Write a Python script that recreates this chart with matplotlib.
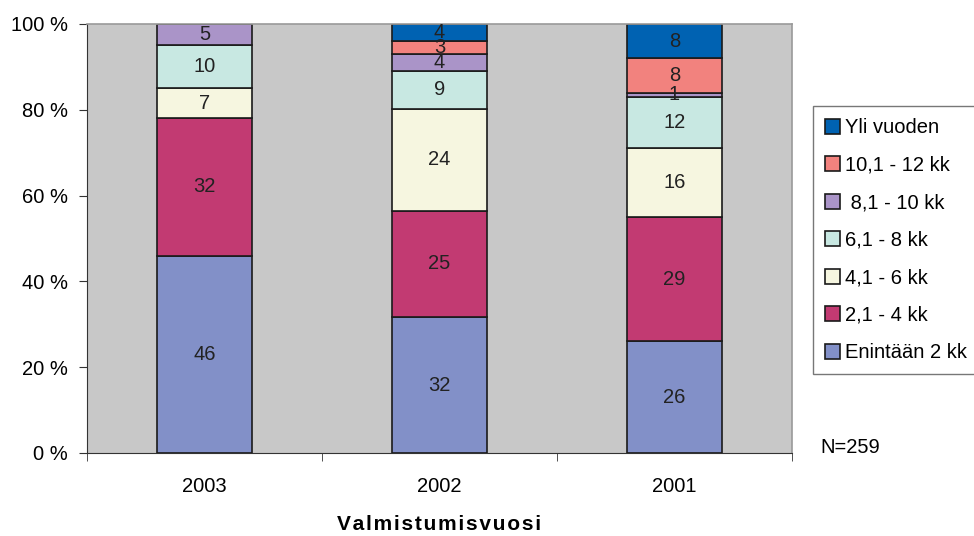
import matplotlib.pyplot as plt
import numpy as np

plt.rcParams['font.family'] = ['Liberation Sans', 'DejaVu Sans']

years = ['2003', '2002', '2001']
labels = ['Enintään 2 kk', '2,1 - 4 kk', '4,1 - 6 kk', '6,1 - 8 kk',
          ' 8,1 - 10 kk', '10,1 - 12 kk', 'Yli vuoden']
# percent per class, bottom to top
enint2 = [46, 32, 26]
kk2_4 = [32, 25, 29]
kk4_6 = [7, 24, 16]
kk6_8 = [10, 9, 12]
kk8_10 = [5, 4, 1]
kk10_12 = [0, 3, 8]
yli = [0, 4, 8]
colors = ['#8290C8', '#C23A72', '#F6F6E0', '#C8E8E2', '#AA94C8', '#F2827E', '#0062B2']

series = [enint2, kk2_4, kk4_6, kk6_8, kk8_10, kk10_12, yli]
data = np.array(series, dtype=float)
shares = data / data.sum(axis=0) * 100  # 100 % stacked

fig = plt.figure(figsize=(9.74, 5.36), dpi=100)
ax = fig.add_axes([0.0893, 0.1549, 0.7238, 0.8004])
ax.set_facecolor('#C8C8C8')

x = np.arange(len(years))
bottom = np.zeros(len(years))
for vals, sh, col, lab in zip(series, shares, colors, labels):
    ax.bar(x, sh, 0.404, bottom=bottom, color=col, edgecolor='#1a1a1a',
           linewidth=1.2, label=lab, zorder=2)
    for xi, v, s, b0 in zip(x, vals, sh, bottom):
        if v > 0:
            ax.text(xi, b0 + s / 2, str(v), ha='center', va='center',
                    fontsize=14.5, color='#222222', zorder=3)
    bottom += sh

ax.set_xlim(-0.5, 2.5)
ax.set_ylim(0, 100)
ax.set_yticks(np.arange(0, 101, 20))
ax.set_yticklabels([f'{v} %' for v in range(0, 101, 20)], fontsize=14.5)
ax.set_xticks(x)
ax.set_xticklabels(years, fontsize=14.5)
ax.tick_params(axis='x', length=0, pad=17)
ax.set_xticks([-0.5, 0.5, 1.5, 2.5], minor=True)
ax.tick_params(axis='x', which='minor', length=6, direction='out', color='#333333')
ax.tick_params(axis='y', length=6, direction='out', color='#333333', pad=8)
for s in ['top', 'right']:
    ax.spines[s].set_color('#9a9a9a')
    ax.spines[s].set_linewidth(1.2)
ax.spines['left'].set_color('#333333')
ax.spines['bottom'].set_color('#333333')

ax.set_xlabel('\u200a'.join('Valmistumisvuosi'), fontsize=15,
              fontweight='bold', labelpad=14)

handles, labs = ax.get_legend_handles_labels()
leg = fig.legend(handles[::-1], labs[::-1], loc='upper left',
                 bbox_to_anchor=(0.8347, 0.802), fontsize=14.5, frameon=True,
                 fancybox=False, edgecolor='#555555', handlelength=0.75,
                 handleheight=0.75, handletextpad=0.25, labelspacing=0.92,
                 borderpad=0.6, borderaxespad=0)
leg.get_frame().set_linewidth(1.0)

fig.text(0.842, 0.155, 'N=259', fontsize=14.5, va='baseline')

fig.savefig('out.png', dpi=100)
